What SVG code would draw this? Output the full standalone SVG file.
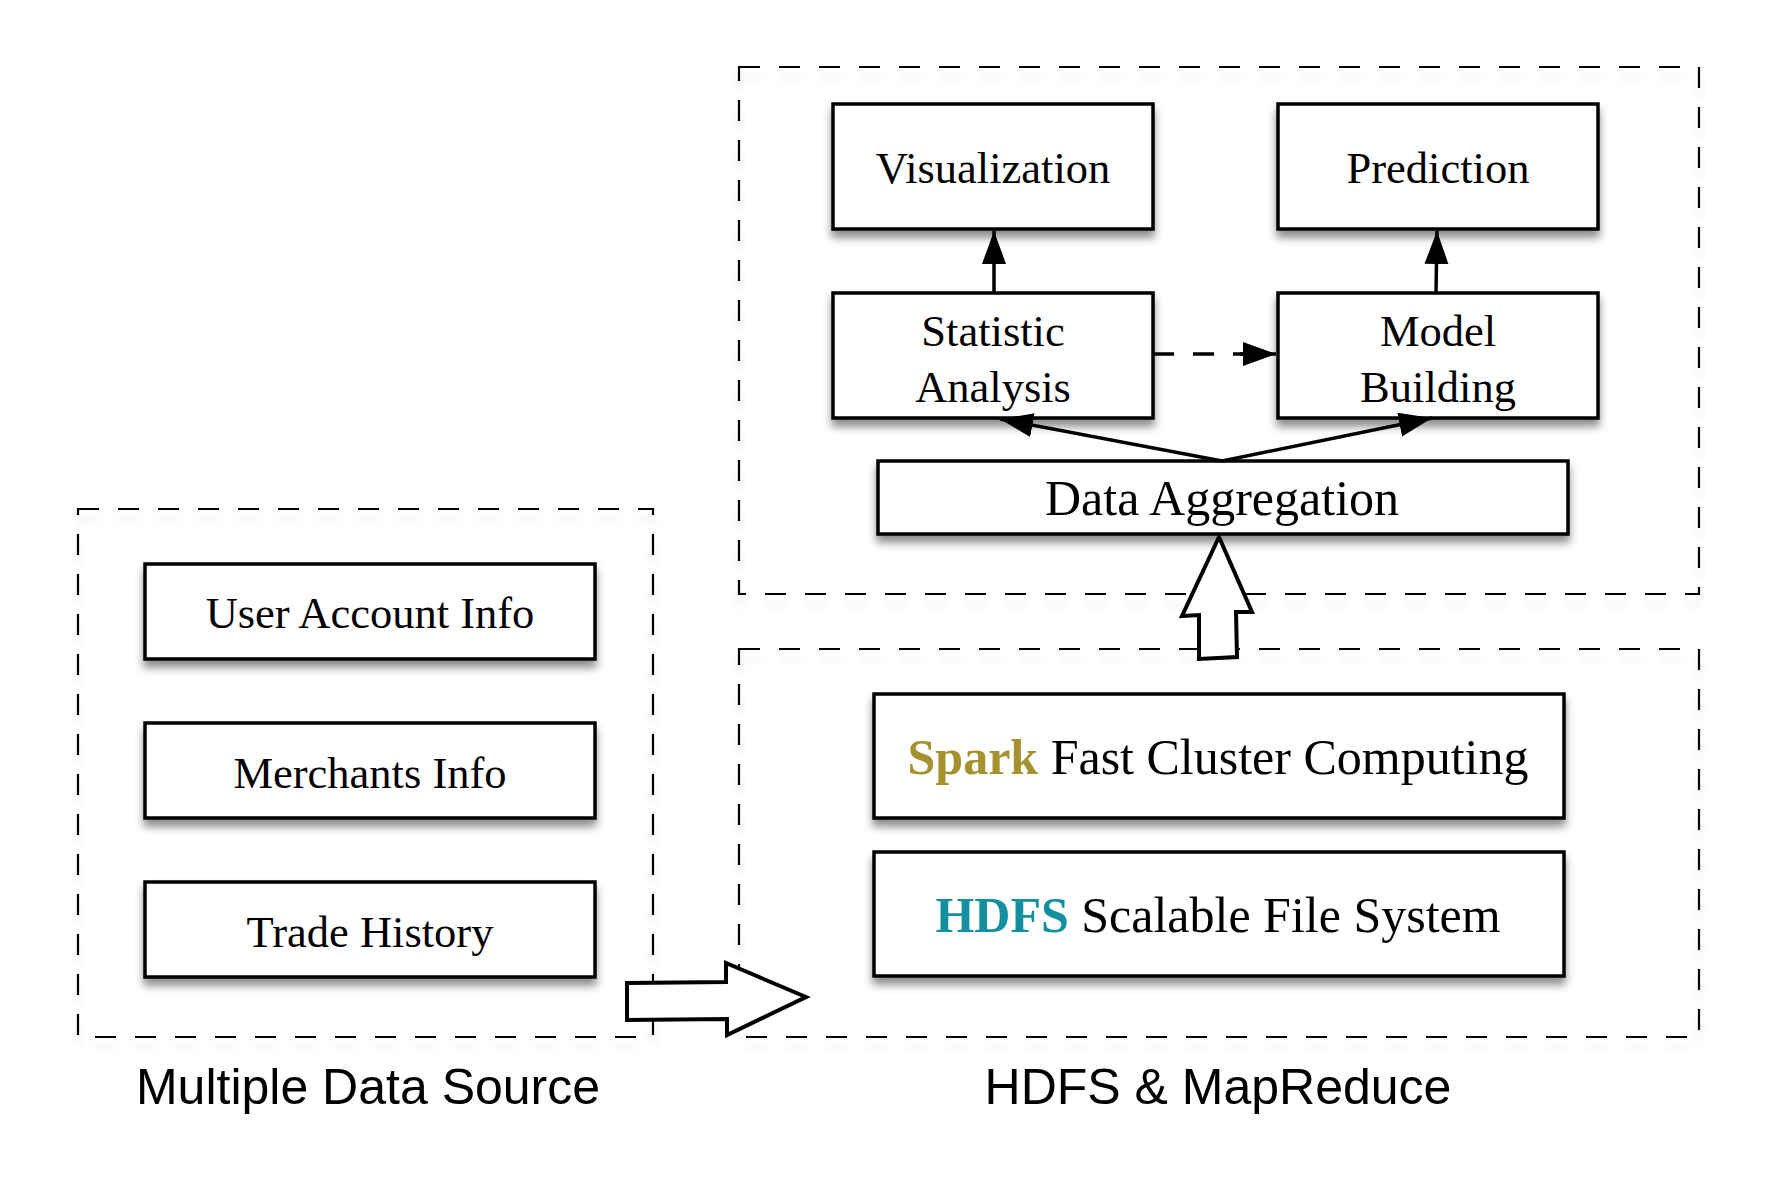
<svg xmlns="http://www.w3.org/2000/svg" width="1775" height="1190" viewBox="0 0 1775 1190">
<style>
.node{fill:#fff;stroke:#000;stroke-width:3.5;filter:url(#sh)}
.grp{fill:none;stroke:#000;stroke-width:2.2;stroke-dasharray:21 19;filter:url(#shl)}
.t{font-family:"Liberation Serif","Times New Roman",serif;font-size:44.5px;fill:#000;text-anchor:middle}
.tb{font-size:50px}
.cap{font-family:"Liberation Sans",Arial,sans-serif;font-size:50px;fill:#000;text-anchor:middle}
.edge{stroke:#000;stroke-width:3.5;fill:none}
.blk{fill:#fff;stroke:#000;stroke-width:4;stroke-linejoin:miter}
</style>
<defs>
<filter id="sh" x="-10%" y="-20%" width="120%" height="150%">
<feDropShadow dx="0" dy="7" stdDeviation="4" flood-color="#000" flood-opacity="0.45"/>
</filter>
<filter id="shl" x="-5%" y="-5%" width="110%" height="115%">
<feDropShadow dx="0" dy="10" stdDeviation="4" flood-color="#000" flood-opacity="0.12"/>
</filter>
<marker id="ah" markerUnits="userSpaceOnUse" markerWidth="34" markerHeight="26" refX="33" refY="12" orient="auto">
<path d="M0,0 L33,12 L0,24 z" fill="#000"/>
</marker>
</defs>
<rect width="1775" height="1190" fill="#fff"/>

<g id="groups">
<rect id="grp-top" class="grp" x="739" y="67" width="960" height="527"/>
<rect id="grp-bottom" class="grp" x="739" y="649" width="960" height="388"/>
<rect id="grp-left" class="grp" x="78" y="509" width="575" height="528"/>
</g>

<g id="node-visualization"><rect class="node" x="833" y="104" width="320" height="125"/><text class="t" x="993" y="183">Visualization</text></g>
<g id="node-prediction"><rect class="node" x="1278" y="104" width="320" height="125"/><text class="t" x="1438" y="183">Prediction</text></g>
<g id="node-statistic"><rect class="node" x="833" y="293" width="320" height="125"/><text class="t" x="993" y="346">Statistic</text><text class="t" x="993" y="402">Analysis</text></g>
<g id="node-model"><rect class="node" x="1278" y="293" width="320" height="125"/><text class="t" x="1438" y="346">Model</text><text class="t" x="1438" y="402">Building</text></g>
<g id="node-aggregation"><rect class="node" x="878" y="461" width="690" height="73"/><text class="t" x="1222" y="515" style="font-size:50px">Data Aggregation</text></g>
<g id="node-user"><rect class="node" x="145" y="564" width="450" height="95"/><text class="t" x="370" y="628">User Account Info</text></g>
<g id="node-merchants"><rect class="node" x="145" y="723" width="450" height="95"/><text class="t" x="370" y="788">Merchants Info</text></g>
<g id="node-trade"><rect class="node" x="145" y="882" width="450" height="95"/><text class="t" x="370" y="947">Trade History</text></g>
<g id="node-spark"><rect class="node" x="874" y="694" width="690" height="124"/><text class="t tb" x="1218" y="774"><tspan fill="#a5922f" font-weight="bold">Spark</tspan> Fast Cluster Computing</text></g>
<g id="node-hdfs"><rect class="node" x="874" y="852" width="690" height="124"/><text class="t tb" x="1218" y="932"><tspan fill="#13909f" font-weight="bold">HDFS</tspan> Scalable File System</text></g>

<g id="connectors">
<line class="edge" x1="994" y1="293" x2="994" y2="231" marker-end="url(#ah)"/>
<line class="edge" x1="1436" y1="293" x2="1437" y2="231" marker-end="url(#ah)"/>
<line class="edge" x1="1153" y1="354" x2="1243" y2="354" stroke-dasharray="21 19"/>
<line class="edge" x1="1240" y1="354" x2="1276" y2="354" marker-end="url(#ah)"/>
<line class="edge" x1="1222" y1="461" x2="1000" y2="419" marker-end="url(#ah)"/>
<line class="edge" x1="1222" y1="461" x2="1432" y2="418" marker-end="url(#ah)"/>
<polygon class="blk" points="1219,537 1252,612 1236,612 1237,657 1199,659 1199,615 1182,616"/>
<polygon class="blk" points="627,983 726,982 726,963 806,997 727,1035 727,1019 627,1020"/>
</g>

<g id="labels">
<text class="cap" x="368" y="1104">Multiple Data Source</text>
<text class="cap" x="1218" y="1104">HDFS &amp; MapReduce</text>
</g>
</svg>
